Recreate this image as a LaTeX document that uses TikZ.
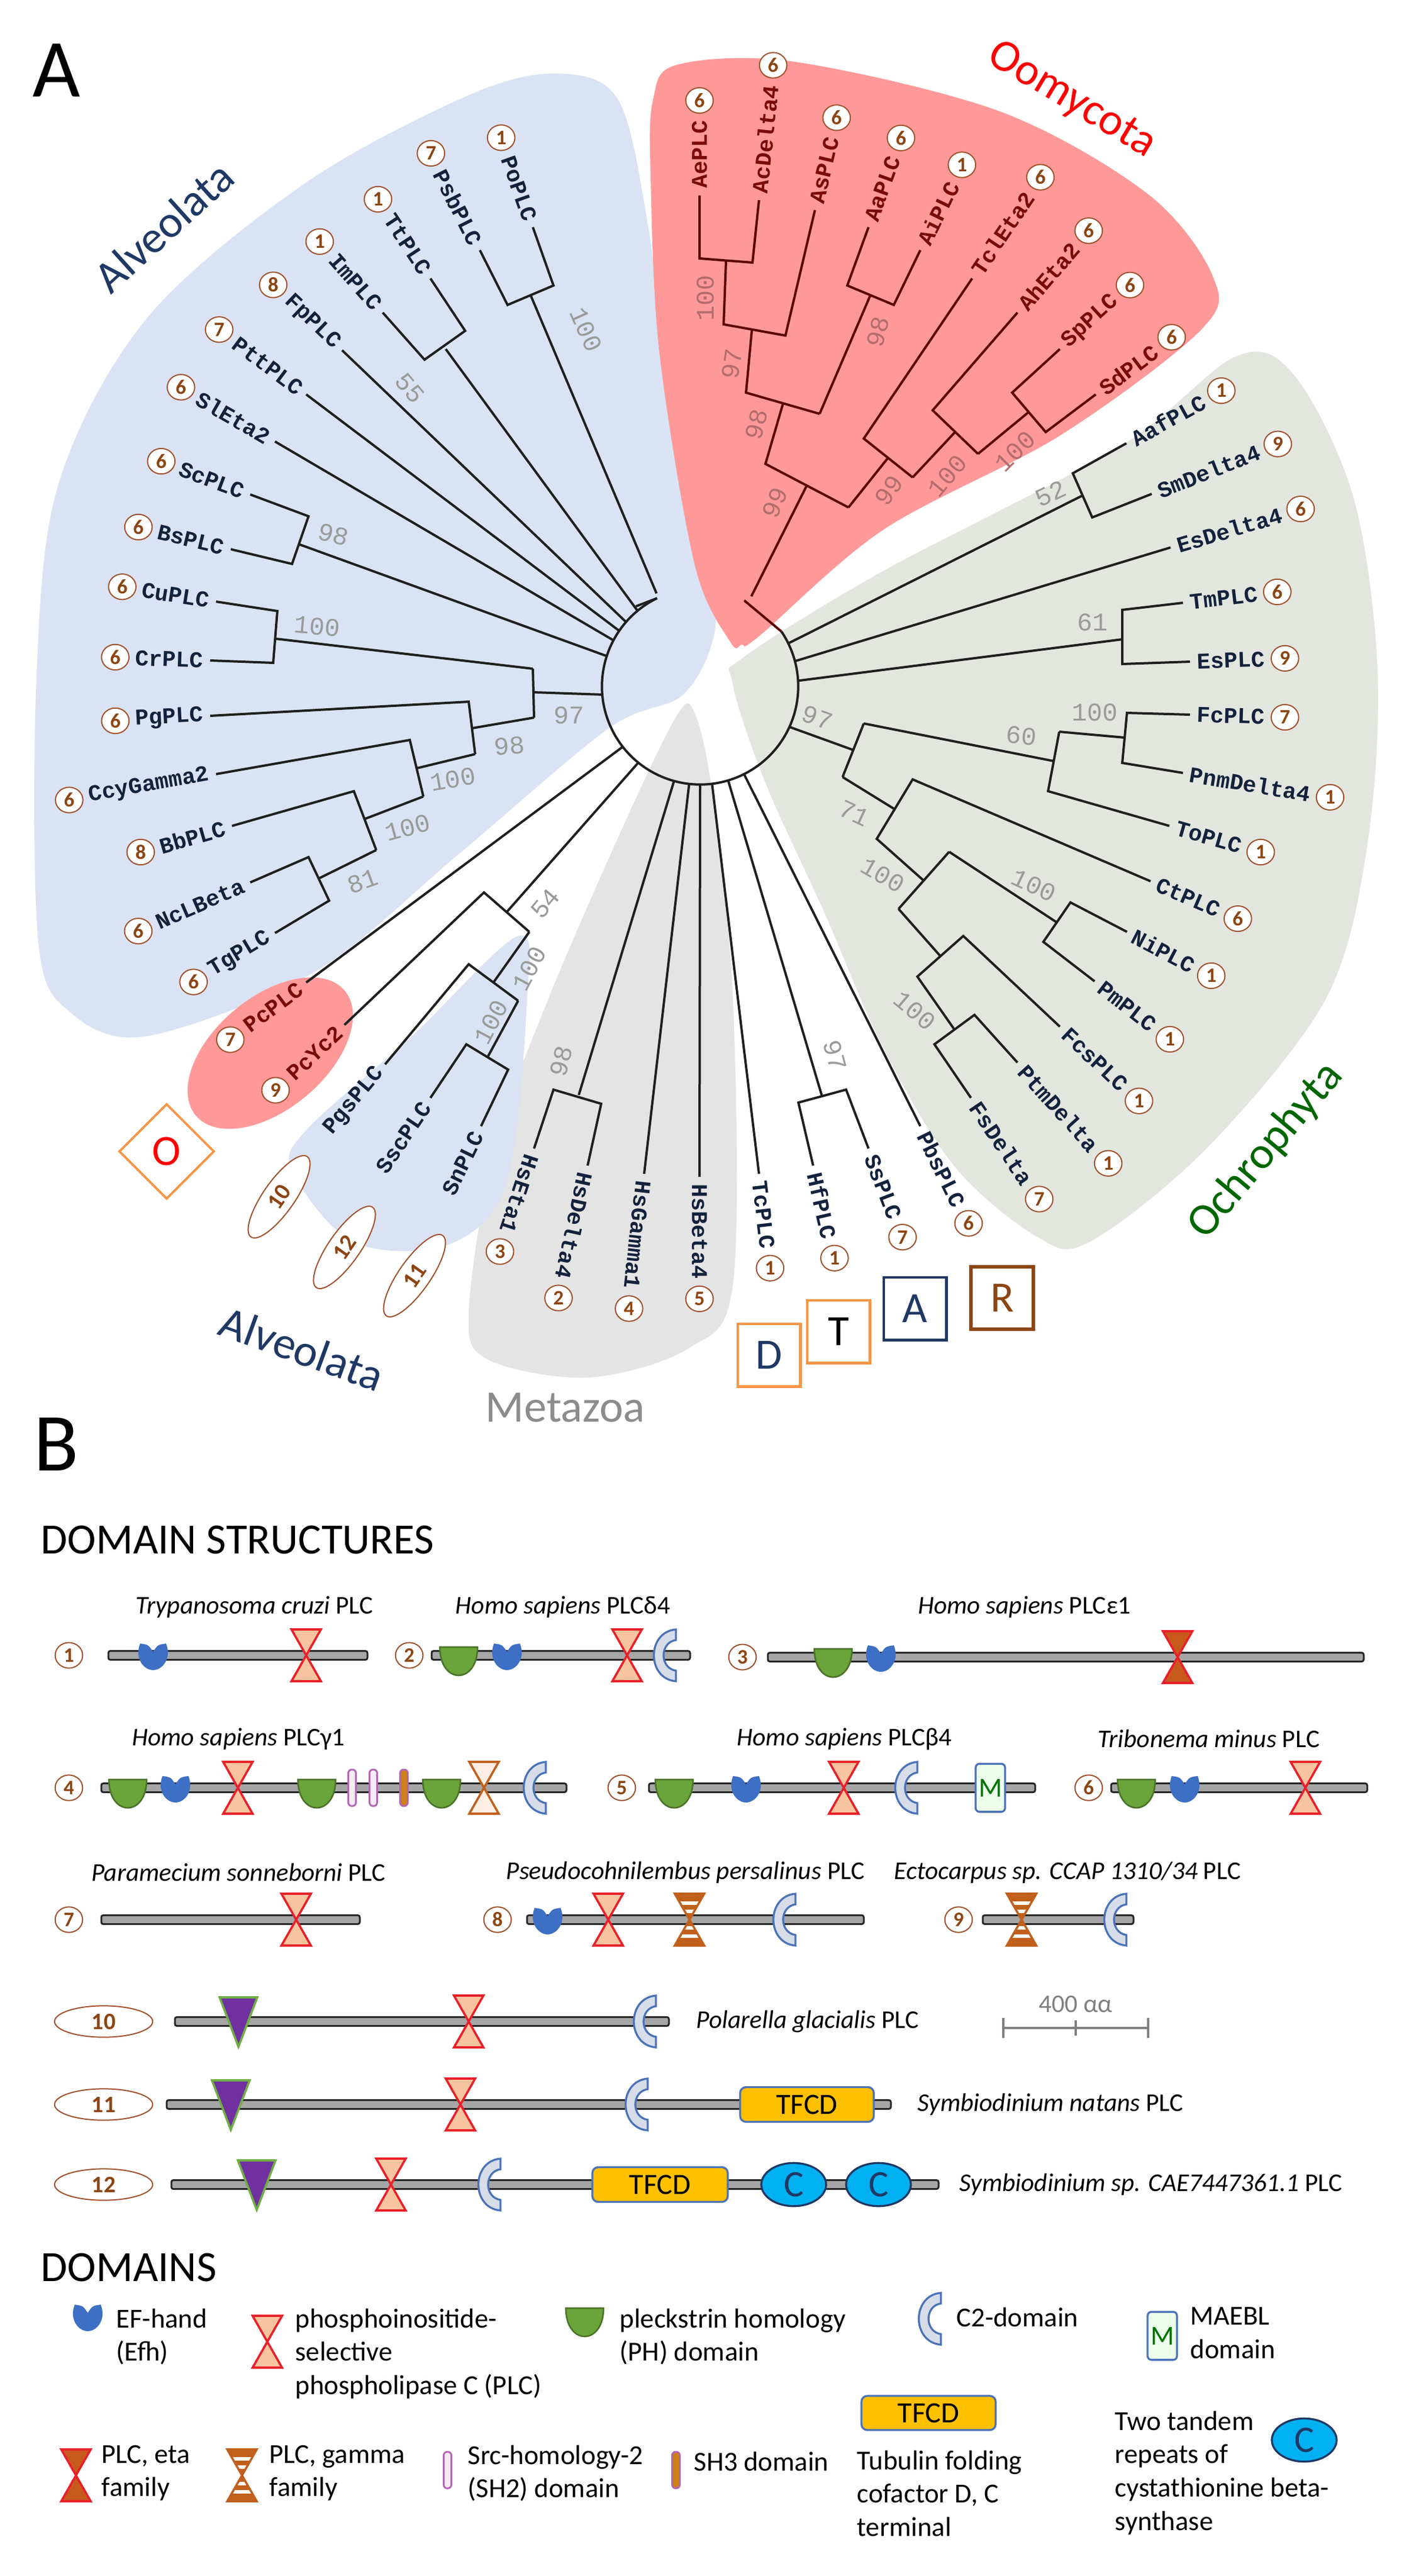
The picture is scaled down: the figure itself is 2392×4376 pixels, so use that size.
\documentclass[tikz,border=0pt]{standalone}
\usepackage{fontspec}
\setmainfont{Carlito}
\newfontfamily\mono{Liberation Mono}
\usetikzlibrary{calc,shapes.geometric}
\definecolor{navy}{HTML}{1F3864}
\definecolor{oo}{HTML}{7A0A0A}
\definecolor{ooline}{HTML}{5C0000}
\definecolor{numc}{HTML}{A0522D}
\definecolor{bsg}{HTML}{9A9A9A}
\definecolor{bsr}{HTML}{B46D6D}
\definecolor{bluebg}{HTML}{DAE3F3}
\definecolor{redbg}{HTML}{FF9999}
\definecolor{greenbg}{HTML}{E2E6DF}
\definecolor{graybg}{HTML}{E4E4E4}
\definecolor{peach}{HTML}{F8C4A0}
\definecolor{plcred}{HTML}{E8202A}
\definecolor{etaf}{HTML}{C8591C}
\definecolor{gbrown}{HTML}{C0601C}
\definecolor{efb}{HTML}{3D6FC4}
\definecolor{phg}{HTML}{6AA43A}
\definecolor{c2f}{HTML}{D6DCE8}
\definecolor{c2s}{HTML}{4A72B8}
\definecolor{tri}{HTML}{7030A0}
\definecolor{trig}{HTML}{70AD47}
\definecolor{tfcd}{HTML}{FFC000}
\definecolor{cbs}{HTML}{00B0F0}
\definecolor{orng}{HTML}{F79646}
\definecolor{rbrown}{HTML}{8B4513}
\tikzset{
 br/.style={line width=1.2pt,draw=black!88},
 obr/.style={line width=1.2pt,draw=ooline},
 lbl/.style={font=\mono\bfseries\fontsize{11.5}{11.5}\selectfont,text=navy!60!black,inner sep=1.5pt},
 olbl/.style={text=oo},
 num/.style={ellipse,draw=numc,fill=white,line width=0.6pt,minimum width=14pt,minimum height=13pt,inner sep=0pt,font=\bfseries\fontsize{10.5}{10.5}\selectfont,text=rbrown},
 oval/.style={ellipse,draw=numc,fill=white,line width=0.6pt,minimum width=50pt,minimum height=16pt,inner sep=0pt,font=\bfseries\fontsize{12}{12}\selectfont,text=rbrown},
 bs/.style={font=\mono\fontsize{13}{13}\selectfont,text=bsg,inner sep=0pt},
 bso/.style={font=\mono\fontsize{13}{13}\selectfont,text=bsr,inner sep=0pt},
 grp/.style={font=\fontsize{23}{23}\selectfont,inner sep=0pt},
 ttl/.style={font=\fontsize{13}{13}\selectfont,inner sep=0pt},
 leg/.style={font=\fontsize{14}{17}\selectfont,align=left,inner sep=0pt,anchor=north west},
 box/.style={draw,line width=1.3pt,minimum size=32pt,inner sep=0pt,font=\fontsize{22}{22}\selectfont},
}
% leaf: x y angle name num style
\newcommand\lf[6]{%
 \pgfmathtruncatemacro\sd{(#3>95)&&(#3<250)}%
 \ifnum\sd=1
  \node[lbl,#6,rotate=#3-180,anchor=east] (L-#4) at ($(#1,#2)+(#3:2pt)$) {#4};
  \ifx&#5&\else\node[num] (N-#4) at ($(L-#4.west)+(#3:8.5pt)$) {#5};\fi
 \else
  \node[lbl,#6,rotate=#3,anchor=west] (L-#4) at ($(#1,#2)+(#3:2pt)$) {#4};
  \ifx&#5&\else\node[num] (N-#4) at ($(L-#4.east)+(#3:8.5pt)$) {#5};\fi
 \fi}
\newcommand\bsl[5][bs]{\node[#1,rotate=#4] at (#2,#3) {#5};}
% domain shapes
\newcommand\pbar[3]{\draw[fill=black!35,draw=black!85,line width=0.9pt,rounded corners=1pt] (#1,{#3-7.5}) rectangle (#2,{#3+7.5});}
\newcommand\hg[2]{({#1-25},{#2-44}) -- ({#1+25},{#2-44}) -- ({#1-25},{#2+44}) -- ({#1+25},{#2+44}) -- cycle}
\newcommand\dPLC[2]{\draw[fill=peach,draw=plcred,line width=1.1pt,line join=miter] \hg{#1}{#2};}
\newcommand\dETA[2]{\draw[fill=etaf,draw=plcred,line width=1.1pt] \hg{#1}{#2};}
\newcommand\dGL[2]{\draw[fill=peach!30,draw=gbrown,line width=1.1pt] \hg{#1}{#2};}
\newcommand\dG[2]{\begin{scope}\clip \hg{#1}{#2}; \fill[gbrown] ({#1-26},{#2-45}) rectangle ({#1+26},{#2+45});
 \foreach \o in {-31,-17,11,25}{\fill[white] ({#1-26},{#2+\o}) rectangle ({#1+26},{#2+\o+6});}\end{scope}
 \draw[draw=gbrown,line width=1.1pt] \hg{#1}{#2};}
\newcommand\dEF[2]{\fill[efb] ({#1-22},{#2-20}) .. controls ({#1-8},{#2-18}) .. ({#1},{#2-6}) .. controls ({#1+8},{#2-18}) .. ({#1+22},{#2-20}) .. controls ({#1+32},{#2+5}) and ({#1+16},{#2+25}) .. ({#1},{#2+25}) .. controls ({#1-16},{#2+25}) and ({#1-32},{#2+5}) .. cycle;}
\newcommand\dPH[2]{\draw[fill=phg,draw=phg!70!black,line width=0.8pt] ({#1-32},{#2-14}) -- ({#1+32},{#2-14}) .. controls ({#1+32},{#2+50}) and ({#1-32},{#2+50}) .. ({#1-32},{#2-14}) -- cycle;}
\newcommand\dCT[2]{\draw[fill=c2f,draw=c2s,line width=1pt] ({#1+20},{#2-44}) .. controls ({#1-30},{#2-40}) and ({#1-30},{#2+40}) .. ({#1+20},{#2+44}) -- ({#1+20},{#2+26}) .. controls ({#1-8},{#2+22}) and ({#1-8},{#2-22}) .. ({#1+20},{#2-26}) -- cycle;}
\newcommand\dTRI[2]{\draw[fill=tri,draw=trig,line width=1.1pt] ({#1-32},{#2-41}) -- ({#1+32},{#2-41}) -- ({#1},{#2+43}) -- cycle;}
\newcommand\dTF[4]{\node[draw=c2s,fill=tfcd,line width=1pt,rounded corners=3pt,minimum width={(#2-#1)*0.3pt},minimum height={(#4)*0.3pt},inner sep=0pt,font=\fontsize{15}{15}\selectfont] at ({(#1+#2)/2},#3) {TFCD};}
\newcommand\dC[2]{\draw[fill=cbs,draw=navy,line width=1pt] (#1,#2) ellipse[x radius=16.5pt,y radius=11pt]; \node[font=\fontsize{19}{19}\selectfont,text=navy] at (#1,#2) {C};}
\newcommand\dM[2]{\node[draw=c2s,fill=green!8!white,line width=1pt,rounded corners=2pt,minimum width=15pt,minimum height=24.5pt,inner sep=0pt,font=\fontsize{14}{14}\selectfont,text=green!45!black] at (#1,#2) {M};}
\newcommand\dSH[3]{\draw[fill=#3,draw=violet!60,line width=0.9pt,rounded corners=1.8pt] ({#1-6.5},{#2-31}) rectangle ({#1+6.5},{#2+31});}
\begin{document}
\begin{tikzpicture}[x=0.3pt,y=-0.3pt]
\useasboundingbox[fill=white] (0,0) rectangle (2392,4376);
% ---------- backgrounds
\fill[bluebg] plot[smooth cycle,tension=0.55] coordinates {(1214,1072)(1160,1180)(1034,1237)(780,1450)(536,1650)(250,1760)(120,1720)(65,1600)(62,1150)(100,820)(250,540)(520,310)(800,160)(950,125)(1050,170)(1100,380)(1150,750)(1200,950)};
\fill[graybg] plot[smooth cycle,tension=0.55] coordinates {(1150,1215)(1180,1212)(1210,1350)(1245,1700)(1245,2180)(1170,2290)(1000,2340)(830,2310)(796,2230)(840,1950)(930,1700)(1060,1400)};
\fill[greenbg] plot[smooth cycle,tension=0.55] coordinates {(1244,1160)(1265,1115)(1500,970)(1900,760)(2100,605)(2200,640)(2300,850)(2340,1150)(2320,1450)(2250,1700)(2050,1950)(1850,2110)(1760,2100)(1620,1980)(1500,1780)(1400,1550)(1300,1330)};
\fill[redbg] plot[smooth cycle,tension=0.55] coordinates {(1109,170)(1150,110)(1350,105)(1700,190)(1950,330)(2060,470)(2040,560)(1800,740)(1500,900)(1290,1080)(1260,1095)(1240,1090)(1180,960)(1120,600)(1105,300)};
\fill[bluebg] plot[smooth cycle,tension=0.55] coordinates {(880,1590)(895,1700)(860,2010)(760,2115)(600,2110)(497,1990)(520,1920)(700,1760)};
\fill[redbg,rotate around={40:(459,1789)}] (459,1789) ellipse[x radius=49.5pt,y radius=28.5pt];
% ---------- tree
\coordinate (C) at (1189,1166);
\draw[br] ($(C)+(116:50pt)$) arc[start angle=116,end angle=394,radius=50pt];
\newcommand\A[1]{($(C)+(#1:50pt)$)}
\draw[br] (815,425)--(862,518)--(940,485)--(905,386);
\draw[br] (901,501)--(1115,1008);
\draw[br] (1080,1030)--\A{116};
\draw[br] (731,473)--(790,562)--(721,611)--(650,531);
\draw[br] (757,593)--\A{129.6};
\draw[br] (581,595)--\A{139};
\draw[br] (520,670)--\A{145.5};
\draw[br] (467,750)--\A{152};
\draw[br] (425,840)--(524,877)--(496,958)--(392,933);
\draw[br] (509,925)--\A{162};
\draw[br] (367,1022)--(471,1038)--(464,1126)--(357,1122);
\draw[br] (468,1085)--(905,1136);
\draw[br] (905,1136)--(907,1219);
\draw[br] (906,1176)--\A{184.8};
\draw[br] (357,1216)--(796,1192)--(807,1281);
\draw[br] (802,1237)--(907,1219);
\draw[br] (367,1315)--(696,1257)--(719,1353);
\draw[br] (708,1305)--(807,1281);
\draw[br] (394,1403)--(601,1344)--(639,1444);
\draw[br] (620,1391)--(719,1353);
\draw[br] (425,1499)--(524,1456)--(559,1530)--(467,1585);
\draw[br] (542,1492)--(639,1444);
\draw[br] (520,1669)--\A{218};
\draw[br] (585,1741)--(822,1516)--(899,1583);
\draw[br] (860,1550)--\A{231};
\draw[br] (899,1583)--(838,1669);
\draw[br] (654,1808)--(796,1638)--(880,1700);
\draw[br] (880,1700)--(828,1796);
\draw[br] (731,1865)--(792,1774)--(863,1817)--(817,1913);
\draw[br] (907,1951)--(940,1851)--(1021,1875)--(998,1980);
\draw[br] (983,1860)--\A{254.6};
\draw[br] (1094,1994)--\A{263.6};
\draw[br] (1188,1999)--\A{270};
\draw[br] (1289,1994)--\A{277};
\draw[br] (1381,1980)--(1356,1873)--(1437,1851)--(1475,1951);
\draw[br] (1396,1862)--\A{286.6};
\draw[br] (1563,1913)--\A{296.6};
\draw[br] (1449,1274)--\A{335.6};
\draw[br] (1467,1229)--(1431,1320);
\draw[br] (1467,1229)--(1790,1293);
\draw[br] (1799,1243)--(1780,1344)--(1986,1403);
\draw[br] (1799,1243)--(1910,1253);
\draw[br] (2021,1214)--(1914,1211)--(1906,1296)--(2009,1313);
\draw[br] (1431,1320)--(1520,1375);
\draw[br] (1954,1497)--(1550,1324)--(1489,1425)--(1570,1497);
\draw[br] (1612,1447)--(1526,1544);
\draw[br] (1612,1447)--(1795,1567);
\draw[br] (1914,1583)--(1818,1533)--(1772,1600)--(1859,1667);
\draw[br] (1526,1544)--(1597,1624);
\draw[br] (1800,1744)--(1636,1590)--(1558,1659)--(1621,1749);
\draw[br] (1728,1805)--(1655,1724)--(1587,1774)--(1649,1865);
\draw[br] (2009,1024)--(1906,1036)--(1906,1128)--(2021,1124);
\draw[br] (1906,1086)--\A{363.3};
\draw[br] (1988,930)--\A{374.9};
\draw[br] (1913,753)--(1822,804)--(1855,879)--(1956,839);
\draw[br] (1838,842)--\A{386};
\draw[obr] (1188,332)--(1188,439)--(1278,446)--(1289,340);
\draw[obr] (1233,444)--(1229,551)--(1334,570)--(1384,357);
\draw[obr] (1277,560)--(1267,667)--(1392,703);
\draw[obr] (1475,386)--(1439,485)--(1518,518)--(1563,425);
\draw[obr] (1478,502)--(1392,703);
\draw[obr] (1330,685)--(1300,788)--(1441,862);
\draw[obr] (1651,473)--(1467,745)--(1550,811);
\draw[obr] (1441,862)--(1508,778);
\draw[obr] (1728,531)--(1584,697)--(1661,771);
\draw[obr] (1550,811)--(1622,734);
\draw[obr] (1800,593)--(1719,667)--(1776,734)--(1861,670);
\draw[obr] (1661,771)--(1747,700);
\draw[obr] (1370,825)--(1276,1013);
\draw[obr] (1264,1020)--\A{394};
% ---------- leaf labels
\lf{905}{386}{109.5}{PoPLC}{1}{}
\lf{815}{425}{116.8}{PsbPLC}{7}{}
\lf{731}{473}{123.5}{TtPLC}{1}{}
\lf{650}{531}{131.6}{ImPLC}{1}{}
\lf{581}{595}{136.5}{FpPLC}{8}{}
\lf{520}{670}{143.3}{PttPLC}{7}{}
\lf{467}{750}{150}{SlEta2}{6}{}
\lf{425}{840}{159.5}{ScPLC}{6}{}
\lf{392}{933}{166.5}{BsPLC}{6}{}
\lf{367}{1022}{171}{CuPLC}{6}{}
\lf{357}{1122}{178}{CrPLC}{6}{}
\lf{357}{1216}{183}{PgPLC}{6}{}
\lf{367}{1315}{190}{CcyGamma2}{6}{}
\lf{394}{1403}{196}{BbPLC}{8}{}
\lf{425}{1499}{203.5}{NcLBeta}{6}{}
\lf{467}{1585}{211}{TgPLC}{6}{}
\lf{520}{1669}{217}{PcPLC}{7}{olbl}
\lf{585}{1741}{223.5}{PcYc2}{9}{olbl}
\lf{654}{1808}{230}{PgsPLC}{}{}
\lf{731}{1865}{236}{SscPLC}{}{}
\lf{817}{1913}{244}{SnPLC}{}{}
\node[oval,rotate=55] (o10) at (474,2033) {10};
\node[oval,rotate=55] (o12) at (585,2119) {12};
\node[oval,rotate=55] (o11) at (704,2167) {11};
\lf{907}{1951}{251.7}{HsEta1}{3}{}
\lf{998}{1980}{257.6}{HsDelta4}{2}{}
\lf{1094}{1994}{263.6}{HsGamma1}{4}{}
\lf{1188}{1999}{270}{HsBeta4}{5}{}
\lf{1289}{1994}{276.7}{TcPLC}{1}{}
\lf{1381}{1980}{283}{HfPLC}{1}{}
\lf{1475}{1951}{291}{SsPLC}{7}{}
\lf{1563}{1913}{296.4}{PbsPLC}{6}{}
\lf{1649}{1865}{304}{FsDelta}{7}{}
\lf{1728}{1805}{312}{PtmDelta}{1}{}
\lf{1800}{1744}{316.8}{FcsPLC}{1}{}
\lf{1859}{1667}{322.4}{PmPLC}{1}{}
\lf{1914}{1583}{332.5}{NiPLC}{1}{}
\lf{1954}{1497}{336.8}{CtPLC}{6}{}
\lf{1986}{1403}{344}{ToPLC}{1}{}
\lf{2009}{1313}{350.6}{PnmDelta4}{1}{}
\lf{2021}{1214}{358.4}{FcPLC}{7}{}
\lf{2021}{1124}{2}{EsPLC}{9}{}
\lf{2009}{1024}{6.6}{TmPLC}{6}{}
\lf{1988}{930}{16.5}{EsDelta4}{6}{}
\lf{1956}{839}{21.6}{SmDelta4}{9}{}
\lf{1913}{753}{29}{AafPLC}{1}{}
\lf{1861}{670}{37}{SdPLC}{6}{olbl}
\lf{1800}{593}{42.4}{SpPLC}{6}{olbl}
\lf{1728}{531}{49}{AhEta2}{6}{olbl}
\lf{1651}{473}{56}{TclEta2}{6}{olbl}
\lf{1563}{425}{64}{AiPLC}{1}{olbl}
\lf{1475}{386}{70}{AaPLC}{6}{olbl}
\lf{1384}{357}{76.8}{AsPLC}{6}{olbl}
\lf{1289}{340}{84}{AcDelta4}{6}{olbl}
\lf{1188}{332}{90}{AePLC}{6}{olbl}
% ---------- bootstrap values
\bsl{995}{560}{-66}{100}
\bsl{696}{659}{-50}{55}
\bsl{566}{908}{-15}{98}
\bsl{539}{1064}{-5}{100}
\bsl{966}{1215}{0}{97}
\bsl{865}{1267}{5}{98}
\bsl{769}{1324}{10}{100}
\bsl{692}{1406}{15}{100}
\bsl{616}{1497}{20}{81}
\bsl{926}{1535}{50}{54}
\bsl{899}{1645}{62}{100}
\bsl{834}{1736}{62}{100}
\bsl{953}{1803}{75}{98}
\bsl[bso]{1198}{506}{90}{100}
\bsl[bso]{1243}{618}{82}{97}
\bsl[bso]{1285}{721}{76}{98}
\bsl[bso]{1316}{854}{68}{99}
\bsl[bso]{1491}{564}{75}{98}
\bsl[bso]{1510}{833}{55}{99}
\bsl[bso]{1609}{808}{50}{100}
\bsl[bso]{1724}{767}{45}{100}
\bsl{1784}{839}{25}{52}
\bsl{1855}{1057}{0}{61}
\bsl{1388}{1219}{-20}{97}
\bsl{1735}{1250}{-5}{60}
\bsl{1859}{1210}{0}{100}
\bsl{1451}{1382}{-25}{71}
\bsl{1499}{1487}{-30}{100}
\bsl{1756}{1504}{-25}{100}
\bsl{1554}{1717}{-40}{100}
\bsl{1418}{1793}{-75}{97}
% ---------- group labels
\node[font=\fontsize{42}{42}\selectfont,inner sep=0pt] (lA) at (96,120) {A};
\node[grp,text=navy,rotate=42] (g1) at (278,385) {Alveolata};
\node[grp,text=red,rotate=-31] (g2) at (1820,170) {Oomycota};
\node[grp,text=green!40!black,rotate=50] (g3) at (2150,1955) {Ochrophyta};
\node[grp,text=black!45] (g4) at (960,2391) {Metazoa};
\node[grp,text=navy,rotate=-20] (g5) at (513,2291) {Alveolata};
\node[draw=orng,line width=1.2pt,minimum size=34pt,rotate=45,inner sep=0pt] (bO) at (283,1956) {};
\node[text=red,font=\fontsize{22}{22}\selectfont] (tO) at (283,1956) {O};
\node[box,draw=orng,text=navy] (bD) at (1306,2302) {D};
\node[box,draw=orng,text=black] (bT) at (1424,2262) {T};
\node[box,draw=navy,text=navy] (bA) at (1554,2223) {A};
\node[box,draw=rbrown,text=rbrown,line width=1.8pt] (bR) at (1702,2205) {R};
% ---------- panel B
\node[font=\fontsize{42}{42}\selectfont,inner sep=0pt] (lB) at (96,2454) {B};
\node[font=\fontsize{22}{22}\selectfont,inner sep=0pt,anchor=west] (ds) at (69,2616) {DOMAIN STRUCTURES};
% row 1
\node[ttl] (t1) at (432,2730) {\textit{Trypanosoma cruzi} PLC};
\node[ttl] (t2) at (956,2730) {\textit{Homo sapiens} PLCδ4};
\node[ttl] (t3) at (1740,2730) {\textit{Homo sapiens} PLCε1};
\node[num] (d1) at (117,2812) {1};
\pbar{184}{624}{2812} \dEF{260}{2812} \dPLC{520}{2812}
\node[num] (d2) at (695,2812) {2};
\pbar{733}{1172}{2812} \dPH{779}{2812} \dEF{861}{2812} \dPLC{1065}{2812} \dCT{1128}{2812}
\node[num] (d3) at (1261,2815) {3};
\pbar{1304}{2316}{2815} \dPH{1415}{2815} \dEF{1496}{2815} \dETA{2000}{2815}
% row 2
\node[ttl] (t4) at (405,2954) {\textit{Homo sapiens} PLCγ1};
\node[ttl] (t5) at (1434,2954) {\textit{Homo sapiens} PLCβ4};
\node[ttl] (t6) at (2053,2954) {\textit{Tribonema minus} PLC};
\node[num] (d4) at (117,3037) {4};
\pbar{172}{962}{3037} \dPH{217}{3037} \dEF{298}{3037} \dPLC{404}{3037} \dPH{538}{3037}
\dSH{598}{3037}{violet!8} \dSH{634}{3037}{violet!8} \dSH{686}{3037}{gbrown!80!yellow} \dPH{750}{3037} \dGL{822}{3037} \dCT{907}{3037}
\node[num] (d5) at (1056,3037) {5};
\pbar{1102}{1758}{3037} \dPH{1145}{3037} \dEF{1267}{3037} \dPLC{1433}{3037} \dCT{1538}{3037} \dM{1682}{3037}
\node[num] (d6) at (1849,3037) {6};
\pbar{1887}{2322}{3037} \dPH{1930}{3037} \dEF{2012}{3037} \dPLC{2217}{3037}
% row 3
\node[ttl] (t7) at (405,3181) {\textit{Paramecium sonneborni} PLC};
\node[ttl] (t8) at (1164,3181) {\textit{Pseudocohnilembus persalinus} PLC};
\node[ttl] (t9) at (1813,3181) {\textit{Ectocarpus sp. CCAP 1310/34} PLC};
\node[num] (d7) at (117,3261) {7};
\pbar{172}{611}{3261} \dPLC{503}{3261}
\node[num] (d8) at (845,3261) {8};
\pbar{895}{1467}{3261} \dEF{930}{3261} \dPLC{1033}{3261} \dG{1171}{3261} \dCT{1331}{3261}
\node[num] (d9) at (1628,3261) {9};
\pbar{1669}{1925}{3261} \dG{1735}{3261} \dCT{1893}{3261}
% row 4
\node[oval] (d10) at (176,3434) {10};
\pbar{297}{1136}{3434} \dTRI{405}{3434} \dPLC{796}{3434} \dCT{1094}{3434}
\node[ttl,anchor=west] (t10) at (1182,3434) {\textit{Polarella glacialis} PLC};
\draw[black!50,line width=1.2pt] (1704,3445)--(1950,3445) (1704,3428)--(1704,3462) (1827,3432)--(1827,3458) (1950,3428)--(1950,3462);
\node[ttl,text=black!50] (sc) at (1827,3405) {400 αα};
% row 5
\node[oval] (d11) at (176,3575) {11};
\pbar{283}{1513}{3575} \dTRI{392}{3575} \dPLC{782}{3575} \dCT{1080}{3575} \dTF{1257}{1484}{3575}{59}
\node[ttl,anchor=west] (t11) at (1558,3575) {\textit{Symbiodinium natans} PLC};
% row 6
\node[oval] (d12) at (176,3711) {12};
\pbar{291}{1594}{3711} \dTRI{436}{3711} \dPLC{664}{3711} \dCT{830}{3711} \dTF{1006}{1236}{3711}{59}
\dC{1348}{3711} \dC{1492}{3711}
\node[ttl,anchor=west] (t12) at (1629,3711) {\textit{Symbiodinium sp. CAE7447361.1} PLC};
% ---------- legend
\node[font=\fontsize{22}{22}\selectfont,inner sep=0pt,anchor=west] (dm) at (69,3852) {DOMAINS};
\dEF{149}{3935}
\node[leg] (l1) at (197,3921) {EF-hand\\(Efh)};
\dPLC{454}{3978}
\node[leg] (l2) at (501,3921) {phosphoinositide-\\selective\\phospholipase C (PLC)};
\dPH{993}{3935}
\node[leg] (l3) at (1052,3921) {pleckstrin homology\\(PH) domain};
\dCT{1578}{3939}
\node[leg] (l4) at (1624,3919) {C2-domain};
\dM{1974}{3968}
\node[leg] (l5) at (2021,3919) {MAEBL\\domain};
\dETA{129}{4205}
\node[leg] (l6) at (172,4153) {PLC, eta\\family};
\dG{411}{4205}
\node[leg] (l7) at (457,4153) {PLC, gamma\\family};
\dSH{760}{4196}{violet!8}
\node[leg] (l8) at (794,4153) {Src-homology-2\\(SH2) domain};
\dSH{1148}{4196}{gbrown!80!yellow}
\node[leg] (l9) at (1178,4164) {SH3 domain};
\dTF{1463}{1691}{4099}{58}
\node[leg] (l10) at (1455,4162) {Tubulin folding\\cofactor D, C\\terminal};
\node[leg] (l11) at (1893,4095) {Two tandem\\repeats of\\cystathionine beta-\\synthase};
\dC{2215}{4145}
\end{tikzpicture}
\end{document}
